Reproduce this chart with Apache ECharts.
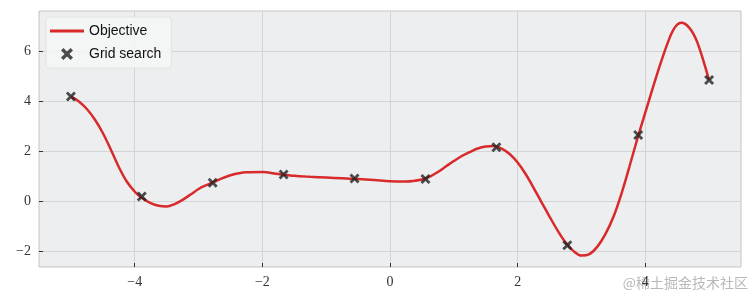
<!DOCTYPE html>
<html><head><meta charset="utf-8">
<script src="https://cdn.jsdelivr.net/npm/echarts@6/dist/echarts.min.js"></script>
<style>html,body{margin:0;padding:0;background:#fff}#c{width:752px;height:300px}</style>
</head><body><div id="c"></div>
<script>
// Objective curve
const curveX = [-5.0,-4.875,-4.75,-4.625,-4.5,-4.375,-4.25,-4.125,-4.0,-3.875,-3.75,-3.625,-3.5,-3.375,-3.25,-3.125,-3.0,-2.875,-2.75,-2.5,-2.25,-2.0,-1.75,-1.5,-1.25,-1.0,-0.75,-0.5,-0.25,0.0,0.25,0.5,0.625,0.75,0.875,1.0,1.125,1.25,1.375,1.5,1.625,1.75,1.875,2.0,2.125,2.25,2.375,2.5,2.625,2.75,2.875,3.0,3.125,3.25,3.375,3.5,3.625,3.75,3.875,4.0,4.125,4.25,4.375,4.4375,4.5,4.5625,4.625,4.6875,4.75,4.8125,4.875,4.9375,5.0];
const curveY = [4.2,4.0,3.7,3.28,2.74,2.08,1.38,0.8,0.4,0.12,-0.06,-0.17,-0.2,-0.1,0.07,0.28,0.5,0.66,0.8,1.05,1.17,1.18,1.1,1.03,0.99,0.96,0.93,0.9,0.86,0.81,0.8,0.88,1.0,1.18,1.4,1.62,1.82,1.98,2.12,2.2,2.22,2.12,1.9,1.56,1.1,0.55,-0.03,-0.6,-1.15,-1.63,-1.98,-2.16,-2.1,-1.8,-1.3,-0.62,0.3,1.38,2.5,3.55,4.6,5.6,6.5,6.85,7.07,7.15,7.1,6.95,6.72,6.38,5.92,5.4,4.85];
// Grid search samples
const gridX = [-5,-3.889,-2.778,-1.667,-0.556,0.556,1.667,2.778,3.889,5];
const gridY = [4.2,0.2,0.75,1.08,0.92,0.9,2.17,-1.75,2.66,4.86];
// Tick labels
const xTicks = [-4,-2,0,2,4];
const yTicks = [-2,0,2,4,6];
const seriesNames = ['Objective','Grid search'];

const fmt = v => (v < 0 ? '\u2212' : '') + Math.abs(v);
const chart = echarts.init(document.getElementById('c'));
const axisFont = {fontFamily:'Liberation Serif', fontSize:14, color:'#333'};
chart.setOption({
  animation:false,
  grid:{left:39,right:11,top:11,bottom:33,show:true,backgroundColor:'#eceef0',borderColor:'#c4c4c4',borderWidth:1},
  xAxis:{type:'value',min:-5.5,max:5.5,
    axisLine:{show:false,onZero:false},
    axisTick:{show:true,inside:true,length:4,lineStyle:{color:'#333'},customValues:xTicks},
    axisLabel:Object.assign({margin:8,customValues:xTicks,formatter:fmt},axisFont),
    splitLine:{show:true,lineStyle:{color:'#d2d4d6',width:1}}},
  yAxis:{type:'value',min:-2.615,max:7.615,
    axisLine:{show:false,onZero:false},
    axisTick:{show:true,inside:true,length:4,lineStyle:{color:'#333'},customValues:yTicks},
    axisLabel:Object.assign({margin:8,customValues:yTicks,formatter:fmt},axisFont),
    splitLine:{show:true,lineStyle:{color:'#d2d4d6',width:1}}},
  legend:{orient:'vertical',left:46,top:17,itemWidth:34,itemHeight:12,itemGap:9,
    padding:[7,10,7,4],backgroundColor:'rgba(246,246,246,0.85)',borderColor:'#e2e2e2',borderWidth:1,borderRadius:3,
    textStyle:{fontFamily:'Liberation Sans',fontSize:14,color:'#111'},
    data:[{name:seriesNames[0],icon:'path://M0,0 L34,0 L34,3 L0,3 Z'},{name:seriesNames[1]}]},
  series:[
    {name:seriesNames[0],type:'line',smooth:0.35,symbol:'none',
     data:curveX.map((x,i)=>[x,curveY[i]]),
     lineStyle:{color:'#d82a2a',width:2.5},itemStyle:{color:'#d82a2a'},z:2},
    {name:seriesNames[1],type:'scatter',symbol:'path://M2,0 L5,3 L8,0 L10,2 L7,5 L10,8 L8,10 L5,7 L2,10 L0,8 L3,5 L0,2 Z',symbolSize:10,
     data:gridX.map((x,i)=>[x,gridY[i]]),itemStyle:{color:'#222'},z:3}
  ],
  graphic:[{type:'text',right:4,top:276,style:{text:'@稀土掘金技术社区',fontFamily:'Noto Sans CJK SC',fontSize:14,fill:'#b8b8b8'}}]
});
</script></body></html>
